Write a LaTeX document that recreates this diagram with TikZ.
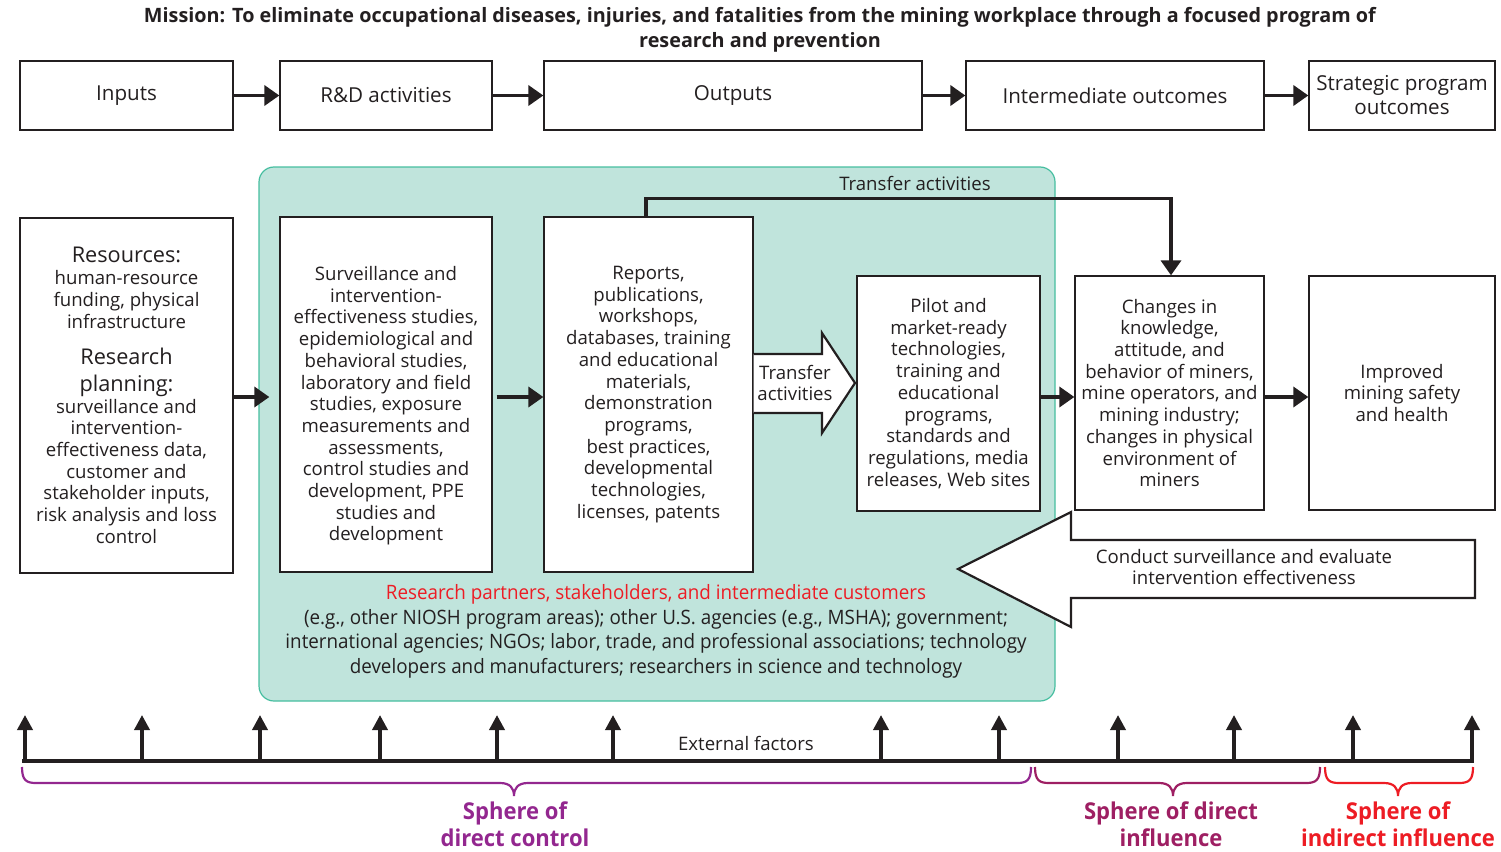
\documentclass[tikz,border=0pt]{standalone}
\usepackage{fontspec}
\setmainfont{Open Sans}
\newfontfamily\cond{Open Sans}[FakeStretch=0.95]
\newfontfamily\condb{Open Sans Bold}[FakeStretch=0.95]
\usetikzlibrary{arrows.meta}
\definecolor{tealfill}{RGB}{192,228,220}
\definecolor{tealline}{RGB}{70,190,160}
\definecolor{sphpurple}{RGB}{147,39,143}
\definecolor{sphmagenta}{RGB}{158,31,99}
\definecolor{sphred}{RGB}{237,28,36}
\definecolor{ink}{RGB}{35,31,32}
\newcommand\bigln[1]{{\fontsize{21.7}{25}\selectfont #1}}
\tikzset{
  box/.style={draw=ink, line width=1.3pt, fill=white, align=center, inner sep=0pt,
    font=\fontsize{18.6}{21.7}\selectfont, text=ink},
  topbox/.style={box, minimum height=69pt, font=\fontsize{20.6}{24}\selectfont},
  flow/.style={draw=ink, line width=3.6pt, -{Triangle[length=15pt,width=20pt]}},
  extarrow/.style={draw=ink, line width=3.6pt, -{Triangle[length=15pt,width=15pt]}},
  bigarrow/.style={draw=ink, line width=2.2pt, fill=white, line join=miter},
  brace/.style={line width=2.2pt},
  lbl/.style={font=\fontsize{18.6}{21.7}\selectfont, text=ink, align=center, inner sep=0pt},
  sphere/.style={font=\condb\fontsize{23.2}{27}\selectfont, align=center, inner sep=0pt},
  partner/.style={font=\cond\fontsize{19.8}{24.5}\selectfont, align=center, inner sep=0pt},
}
\begin{document}
\begin{tikzpicture}[x=1pt,y=-1pt]
\useasboundingbox (0,0) rectangle (1501,851);

% mission
\node[font=\bfseries\fontsize{19.8}{25}\selectfont, text=ink, align=center, inner sep=0pt] (mission) at (760,30)
  {Mission: To eliminate occupational diseases, injuries, and fatalities from the mining workplace through a focused program of\\research and prevention};

% teal region
\node[draw=tealline, fill=tealfill, line width=1.2pt, rounded corners=15pt,
  minimum width=796pt, minimum height=534pt, inner sep=0pt] (region) at (657,434) {};

% top row
\node[topbox, minimum width=213pt] (inputs) at (126.5,95.5) {Inputs};
\node[topbox, minimum width=212pt] (rd) at (386,95.5) {R\&D activities};
\node[topbox, minimum width=378pt] (outputs) at (733,95.5) {Outputs};
\node[topbox, minimum width=298pt] (inter) at (1115,95.5) {Intermediate outcomes};
\node[topbox, minimum width=186pt] (strat) at (1402,95.5) {Strategic program\\outcomes};

\draw[flow] (inputs) -- (rd);
\draw[flow] (rd) -- (outputs);
\draw[flow] (outputs) -- (inter);
\draw[flow] (inter) -- (strat);

% middle row
\node[box, minimum width=213pt, minimum height=355pt] (res) at (126.5,395.5)
  {\bigln{Resources:}\\human-resource\\funding, physical\\infrastructure\\[15pt]
   \bigln{Research}\\[5pt]\bigln{planning:}\\surveillance and\\intervention-\\effectiveness data,\\customer and\\stakeholder inputs,\\risk analysis and loss\\control};
\node[box, minimum width=212pt, minimum height=355pt] (surv) at (386,394.5)
  {\strut\\Surveillance and\\intervention-\\effectiveness studies,\\epidemiological and\\behavioral studies,\\laboratory and field\\studies, exposure\\measurements and\\assessments,\\control studies and\\development, PPE\\studies and\\development};
\node[box, minimum width=209pt, minimum height=355pt] (rep) at (648.5,394.5)
  {Reports,\\publications,\\workshops,\\databases, training\\and educational\\materials,\\demonstration\\programs,\\best practices,\\developmental\\technologies,\\licenses, patents};
\node[box, minimum width=183pt, minimum height=235pt] (pilot) at (948.5,393.5)
  {Pilot and\\market-ready\\technologies,\\training and\\educational\\programs,\\standards and\\regulations, media\\releases, Web sites};
\node[box, minimum width=189pt, minimum height=234pt] (chg) at (1169.5,393)
  {Changes in\\knowledge,\\attitude, and\\behavior of miners,\\mine operators, and\\mining industry;\\changes in physical\\environment of\\miners};
\node[box, minimum width=186pt, minimum height=234pt] (imp) at (1402,393)
  {Improved\\mining safety\\and health};

\draw[flow, shorten >=10pt] (res.east |- 0,397) -- (surv.west |- 0,397);
\draw[flow] ([xshift=4pt]surv.east |- 0,397) -- (rep.west |- 0,397);
\draw[flow] (pilot.east |- 0,397) -- (chg.west |- 0,397);
\draw[flow] (chg.east |- 0,397) -- (imp.west |- 0,397);

% transfer activities (elbow)
\draw[flow, line join=miter] ([xshift=-2.5pt]rep.north) -- ++(0,-18) -| ([xshift=1.5pt]chg.north);
\node[lbl] (tlabel) at (915,183) {Transfer activities};

% transfer block arrow
\coordinate (ta1) at (rep.east |- 0,354);
\coordinate (ta2) at (rep.east |- 0,413);
\fill[white] (ta1) -- (822,354) -- (822,333) -- (855,383) -- (822,433) -- (822,413) -- (ta2) -- cycle;
\draw[bigarrow, fill=none] (ta1) -- (822,354) -- (822,333) -- (855,383) -- (822,433) -- (822,413) -- (ta2);
\node[lbl] (talbl) at (795,383) {Transfer\\activities};

% conduct surveillance arrow
\draw[bigarrow] (958,569) -- (1071,512) -- (1071,540) -- (1475,540) -- (1475,598) -- (1071,598) -- (1071,627) -- cycle;
\node[lbl] (conduct) at (1244,567) {Conduct surveillance and evaluate\\intervention effectiveness};

% partners text
\node[partner, text=sphred] (partners) at (656,594)
  {Research partners, stakeholders, and intermediate customers};
\node[partner, text=ink] (partlist) at (656,643.5)
  {(e.g., other NIOSH program areas); other U.S. agencies (e.g., MSHA); government;\\
   international agencies; NGOs; labor, trade, and professional associations; technology\\
   developers and manufacturers; researchers in science and technology};

% external factors
\coordinate (extL) at (22,761);
\coordinate (extR) at (1474,761);
\draw[line width=3.6pt, draw=ink] (extL) -- (extR);
\foreach \xx in {25,142,260,380,497,613,881,999,1118,1234,1353,1472}
  \draw[extarrow] (\xx,762) -- (\xx,715);
\node[lbl] (ext) at (746,743) {External factors};

% braces
\draw[brace, sphpurple] (22,767) .. controls (22,780) and (26,783) .. (36,783) -- (500,783)
  .. controls (510,783) and (514,788) .. (514,796) .. controls (514,788) and (518,783) .. (528,783)
  -- (1017,783) .. controls (1027,783) and (1031,780) .. (1031,767);
\draw[brace, sphmagenta] (1035,767) .. controls (1035,780) and (1039,783) .. (1049,783) -- (1159,783)
  .. controls (1169,783) and (1173,788) .. (1173,796) .. controls (1173,788) and (1177,783) .. (1187,783)
  -- (1306,783) .. controls (1316,783) and (1320,780) .. (1320,767);
\draw[brace, sphred] (1325,767) .. controls (1325,780) and (1329,783) .. (1339,783) -- (1384,783)
  .. controls (1394,783) and (1398,788) .. (1398,796) .. controls (1398,788) and (1402,783) .. (1412,783)
  -- (1459,783) .. controls (1469,783) and (1473,780) .. (1473,767);

\node[sphere, text=sphpurple] (s1) at (515,824) {Sphere of\\direct control};
\node[sphere, text=sphmagenta] (s2) at (1171,824) {Sphere of direct\\influence};
\node[sphere, text=sphred] (s3) at (1398,824) {Sphere of\\indirect influence};
\end{tikzpicture}
\end{document}
